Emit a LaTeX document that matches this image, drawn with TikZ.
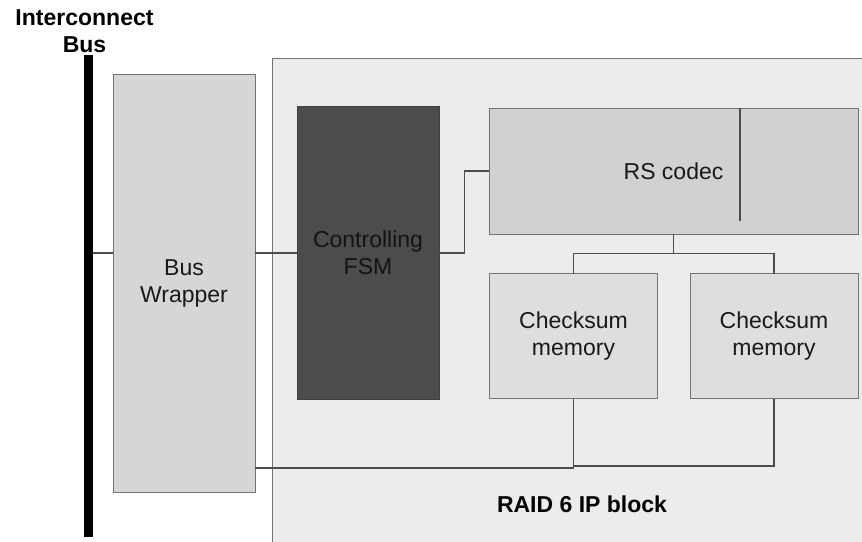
\documentclass[tikz,border=0pt]{standalone}
\usepackage{fontspec}
\setmainfont{Liberation Sans}
\begin{document}
\begin{tikzpicture}[x=1pt,y=-1pt,
  blk/.style={draw=black!55,line width=1pt,inner sep=0pt,outer sep=0pt,align=center,
    font=\fontsize{23}{27}\selectfont,text=black!90},
  conn/.style={draw=black!70,line width=1.2pt},
  ttl/.style={font=\fontsize{23}{27}\selectfont\bfseries,align=center,inner sep=0pt}]
\useasboundingbox (0,0) rectangle (862,541);
\fill[white] (0,0) rectangle (862,541);
% RAID block
\node[blk,fill=black!7.5,anchor=north west,minimum width=600pt,minimum height=500pt] (raid) at (272,58) {};
% Bus wrapper
\node[blk,fill=black!16,anchor=north west,minimum width=142pt,minimum height=418pt] (wrap) at (113,74) {Bus\\Wrapper};
% Controlling FSM
\node[blk,draw=black!75,fill=black!70,text=black!92,anchor=north west,minimum width=142pt,minimum height=293pt] (fsm) at (297,106) {Controlling\\FSM};
% RS codec
\node[blk,fill=black!18,anchor=north west,minimum width=369pt,minimum height=126pt] (rs) at (489,108) {RS codec};
\draw[conn] (rs.north west) ++(251,0) coordinate (rsdivT) -- ++(0,113) coordinate (rsdivB);
% Checksum memories
\node[blk,fill=black!13,anchor=north west,minimum width=168pt,minimum height=125pt] (cs1) at (489.5,273.5) {Checksum\\memory};
\node[blk,fill=black!13,anchor=north west,minimum width=168pt,minimum height=125pt] (cs2) at (690,273.5) {Checksum\\memory};
% Labels
\node[ttl] (title) at (84.5,31) {Interconnect\\Bus};
\node[ttl] (raidlbl) at (582,504.5) {RAID 6 IP block};
% Bus line coordinates
\coordinate (busT) at (88.3,55);
\coordinate (busB) at (88.3,537);
\coordinate (busJ) at (88.3,253);
% Connectors
\draw[conn] (busJ) -- (busJ -| wrap.west);
\draw[conn] (wrap.east |- busJ) -- (busJ -| fsm.west);
\draw[conn] (fsm.east |- busJ) -- ++(25.5,0) coordinate (bend) |- (rs.west);
\coordinate (split) at (rs.south |- 0,253.5);
\draw[conn] (rs.south) -- (split);
\draw[conn] (cs1.north) |- (split) -| (cs2.north);
\coordinate (bot1) at (cs1.south |- 0,468);
\coordinate (bot2) at (cs1.south |- 0,466);
\draw[conn] (wrap.east |- bot1) -- (bot1) -- (cs1.south);
\draw[conn] (bot2) -| (cs2.south);
% Bus line (drawn last)
\draw[line width=8.5pt,black] (busT) -- (busB);
\end{tikzpicture}
\end{document}
